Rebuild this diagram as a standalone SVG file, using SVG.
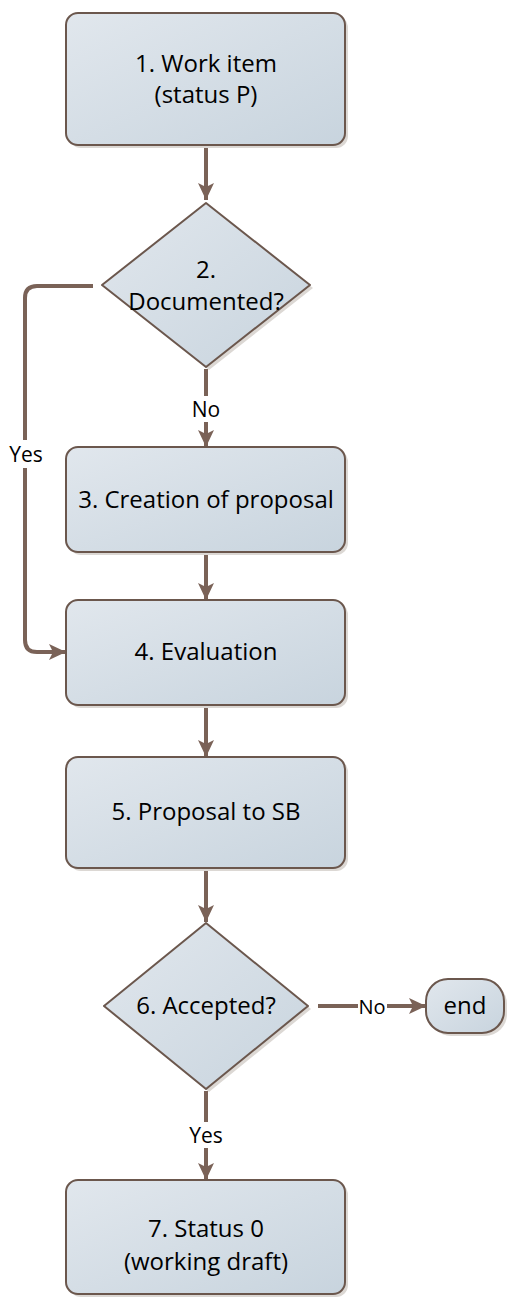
<svg xmlns="http://www.w3.org/2000/svg" xmlns:xlink="http://www.w3.org/1999/xlink" width="507" height="1308" viewBox="0 0 507 1308">
<defs>
<linearGradient id="g" x1="0" y1="0" x2="1" y2="1">
<stop offset="0" stop-color="#e1e7ed"/>
<stop offset="1" stop-color="#c8d4de"/>
</linearGradient>
<marker id="ah" markerUnits="userSpaceOnUse" markerWidth="18" markerHeight="18" viewBox="0 0 18 18" refX="17" refY="9" orient="auto">
<path d="M0,1 L17,9 L0,17 L4,9 Z" fill="#7a6257"/>
</marker>
</defs>
<style>
.shape{fill:url(#g);stroke:#6b574d;stroke-width:2;stroke-linejoin:round}
.shadow{fill:#dcd8d4;stroke:none}
.t{font-family:"Open Sans","Liberation Sans",sans-serif;font-size:24px;fill:#000;text-anchor:middle}
.lbl{font-family:"Open Sans","Liberation Sans",sans-serif;font-size:21px;fill:#000;text-anchor:middle}
.c{fill:none;stroke:#7a6257;stroke-width:4}
.bg{fill:#fff}
</style>
<rect width="507" height="1308" fill="#fff"/>
<g id="connectors">
<line class="c" x1="206" y1="146" x2="206" y2="200" marker-end="url(#ah)"/>
<line class="c" x1="206" y1="369" x2="206" y2="447" marker-end="url(#ah)"/>
<rect class="bg" x="188" y="396" width="36" height="26"/>
<text class="lbl" x="206" y="417">No</text>
<path class="c" d="M93,286 H37 Q25,286 25,298 V640 Q25,652 37,652 H66" marker-end="url(#ah)"/>
<rect class="bg" x="4" y="440" width="44" height="28"/>
<text class="lbl" x="26" y="462">Yes</text>
<line class="c" x1="206" y1="553" x2="206" y2="600" marker-end="url(#ah)"/>
<line class="c" x1="206" y1="706" x2="206" y2="757" marker-end="url(#ah)"/>
<line class="c" x1="206" y1="869" x2="206" y2="922" marker-end="url(#ah)"/>
<line class="c" x1="206" y1="1091" x2="206" y2="1180" marker-end="url(#ah)"/>
<rect class="bg" x="186" y="1122" width="40" height="26"/>
<text class="lbl" x="206" y="1143">Yes</text>
<line class="c" x1="318" y1="1006" x2="426" y2="1006" marker-end="url(#ah)"/>
<rect class="bg" x="358" y="994" width="29" height="24"/>
<text class="lbl" x="372" y="1014" style="font-size:20px">No</text>
</g>
<g id="n1">
<rect class="shadow" x="69" y="16" width="279" height="132" rx="12"/>
<rect class="shape" x="66" y="13" width="279" height="132" rx="12"/>
<text class="t" x="206" y="72">1. Work item</text>
<text class="t" x="206" y="103">(status P)</text>
</g>
<g id="n2">
<polygon class="shadow" points="209,206 313,288 209,370 105,288"/>
<polygon class="shape" points="206,203 310,285 206,367 102,285"/>
<text class="t" x="206" y="278">2.</text>
<text class="t" x="206" y="310">Documented?</text>
</g>
<g id="n3">
<rect class="shadow" x="69" y="450" width="279" height="105" rx="12"/>
<rect class="shape" x="66" y="447" width="279" height="105" rx="12"/>
<text class="t" x="206" y="508">3. Creation of proposal</text>
</g>
<g id="n4">
<rect class="shadow" x="69" y="603" width="279" height="105" rx="12"/>
<rect class="shape" x="66" y="600" width="279" height="105" rx="12"/>
<text class="t" x="206" y="660">4. Evaluation</text>
</g>
<g id="n5">
<rect class="shadow" x="69" y="760" width="279" height="111" rx="12"/>
<rect class="shape" x="66" y="757" width="279" height="111" rx="12"/>
<text class="t" x="206" y="820">5. Proposal to SB</text>
</g>
<g id="n6">
<polygon class="shadow" points="209,926 311,1009 209,1092 107,1009"/>
<polygon class="shape" points="206,923 308,1006 206,1089 104,1006"/>
<text class="t" x="206" y="1014">6. Accepted?</text>
</g>
<g id="end">
<rect class="shadow" x="429" y="982" width="78" height="54" rx="22"/>
<rect class="shape" x="426" y="979" width="78" height="54" rx="22"/>
<text class="t" x="465" y="1014">end</text>
</g>
<g id="n7">
<rect class="shadow" x="69" y="1183" width="279" height="114" rx="12"/>
<rect class="shape" x="66" y="1180" width="279" height="114" rx="12"/>
<text class="t" x="206" y="1237">7. Status 0</text>
<text class="t" x="206" y="1270">(working draft)</text>
</g>
</svg>
